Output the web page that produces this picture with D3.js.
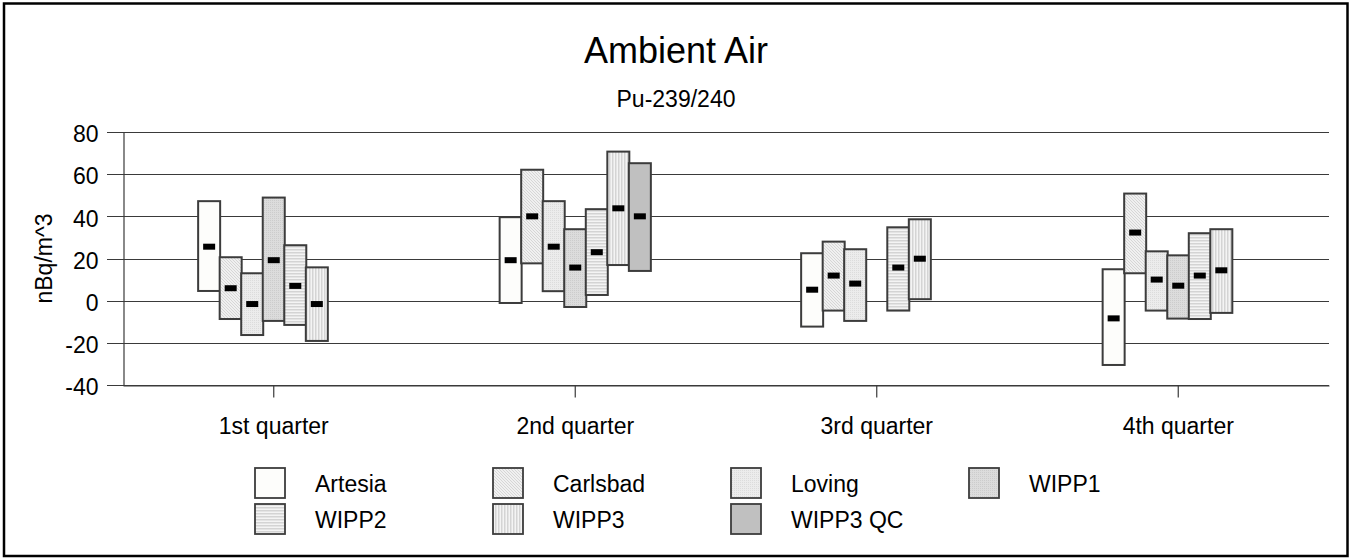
<!DOCTYPE html>
<html>
<head>
<meta charset="utf-8">
<script src="https://cdn.jsdelivr.net/npm/d3@7"></script>
<style>
  html, body { margin: 0; padding: 0; background: #fff; }
  svg { display: block; font-family: "Liberation Sans", Arial, sans-serif; }
</style>
</head>
<body>
<svg id="chart" width="1351" height="558"></svg>
<script>
// ---------- data ----------
const quarters = ["1st quarter", "2nd quarter", "3rd quarter", "4th quarter"];
const seriesNames = ["Artesia", "Carlsbad", "Loving", "WIPP1", "WIPP2", "WIPP3", "WIPP3 QC"];
// per series (rows) and quarter (columns); null = no data
const highs = [
  [47.2, 39.6, 22.5, 14.9],
  [20.6, 62.1, 28.0, 50.8],
  [13.0, 47.2, 24.4, 23.4],
  [48.9, 33.9, null, 21.5],
  [26.3, 43.4, 34.8, 32.0],
  [15.8, 70.7, 38.6, 33.9],
  [null, 65.2, null, null]
];
const lows = [
  [4.6, -1.1, -12.3, -30.5],
  [-8.7, 17.7, -4.7, 13.0],
  [-16.3, 4.5, -9.6, -4.7],
  [-9.6, -3.0, null, -8.5],
  [-11.5, 2.7, -4.7, -8.7],
  [-19.1, 16.9, 0.7, -5.8],
  [null, 14.1, null, null]
];
const means = [
  [25.6, 19.2, 5.2, -8.4],
  [5.9, 40.0, 11.9, 32.3],
  [-1.6, 25.6, 8.1, 10.0],
  [19.2, 15.7, null, 7.1],
  [7.0, 23.0, 15.7, 11.9],
  [-1.6, 43.8, 19.9, 14.4],
  [null, 40.0, null, null]
];
const yTicks = [-40, -20, 0, 20, 40, 60, 80];
const chartTitle = "Ambient Air";
const chartSubtitle = "Pu-239/240";
const yAxisTitle = "nBq/m^3";

// ---------- setup ----------
const svg = d3.select("#chart");
const plot = { left: 123, right: 1329, top: 132, bottom: 385 };

const x = d3.scaleBand().domain(quarters).range([plot.left, plot.right]).paddingInner(0).paddingOuter(0);
const y = d3.scaleLinear().domain([-40, 80]).range([plot.bottom, plot.top]);
const slot = x.bandwidth() / 14;
const boxW = 22;

// patterns
const defs = svg.append("defs");
function pat(id, w, h, bg, draw) {
  const p = defs.append("pattern").attr("id", id).attr("patternUnits", "userSpaceOnUse")
    .attr("width", w).attr("height", h);
  p.append("rect").attr("width", w).attr("height", h).attr("fill", bg);
  draw(p);
}
pat("pCarlsbad", 3, 3, "#f0f0f0", p => {
  [0, 1, 2].forEach(k => p.append("rect").attr("x", k).attr("y", k).attr("width", 1).attr("height", 1).attr("fill", "#d6d6d6"));
});
pat("pLoving", 2, 2, "#ececec", p => {
  p.append("rect").attr("x", 0).attr("y", 0).attr("width", 1).attr("height", 1).attr("fill", "#dcdcdc");
});
pat("pWIPP1", 2, 2, "#dcdcdc", p => {
  p.append("rect").attr("x", 0).attr("y", 0).attr("width", 1).attr("height", 1).attr("fill", "#cccccc");
});
pat("pWIPP2", 3, 3, "#f4f4f4", p => {
  p.append("rect").attr("x", 0).attr("y", 0).attr("width", 3).attr("height", 1.5).attr("fill", "#d4d4d4");
});
pat("pWIPP3", 3, 3, "#f4f4f4", p => {
  p.append("rect").attr("x", 0).attr("y", 0).attr("width", 1.5).attr("height", 3).attr("fill", "#d4d4d4");
});
const fills = ["#fdfdfb", "url(#pCarlsbad)", "url(#pLoving)", "url(#pWIPP1)", "url(#pWIPP2)", "url(#pWIPP3)", "#c0c0c0"];

// outer frame
svg.append("rect").attr("x", 4).attr("y", 3.5).attr("width", 1343.5).attr("height", 552.5)
  .attr("fill", "#fff").attr("stroke", "#000").attr("stroke-width", 2.5);

// titles
svg.append("text").attr("x", 676).attr("y", 63).attr("text-anchor", "middle")
  .attr("font-size", 36).attr("fill", "#000").text(chartTitle);
svg.append("text").attr("x", 676).attr("y", 107).attr("text-anchor", "middle")
  .attr("font-size", 23).attr("fill", "#000").text(chartSubtitle);

// gridlines
svg.append("g").selectAll("line").data(yTicks).join("line")
  .attr("x1", plot.left - 16).attr("x2", plot.right)
  .attr("y1", d => Math.round(y(d)) + 0.5).attr("y2", d => Math.round(y(d)) + 0.5)
  .attr("stroke", "#3a3a3a").attr("stroke-width", 1.2);

// y axis
const yAxis = d3.axisLeft(y).tickValues(yTicks).tickSize(0).tickPadding(25).tickFormat(d => String(d));
const gy = svg.append("g").attr("transform", `translate(${plot.left + 0.5},0)`).call(yAxis);
gy.select(".domain").attr("stroke", "#3a3a3a").attr("stroke-width", 1.2);
gy.selectAll("text").attr("font-size", 23).attr("fill", "#000")
  .attr("font-family", "'Liberation Sans', Arial, sans-serif").attr("dy", "0.42em");

// x axis
const xAxis = d3.axisBottom(x).tickSize(12).tickPadding(20).tickSizeOuter(0);
const gx = svg.append("g").attr("transform", `translate(0,${Math.round(y(-40)) + 0.5})`).call(xAxis);
gx.select(".domain").attr("stroke", "#3a3a3a").attr("stroke-width", 1.2);
gx.selectAll(".tick line").attr("stroke", "#3a3a3a").attr("stroke-width", 1.2);
gx.selectAll("text").attr("font-size", 23).attr("fill", "#000")
  .attr("font-family", "'Liberation Sans', Arial, sans-serif");

// y axis title
svg.append("text").attr("transform", `translate(52,${(plot.top + plot.bottom) / 2}) rotate(-90)`)
  .attr("text-anchor", "middle").attr("font-size", 23).attr("fill", "#000").text(yAxisTitle);

// boxes
const boxes = [];
seriesNames.forEach((s, si) => {
  quarters.forEach((q, qi) => {
    if (highs[si][qi] == null) return;
    boxes.push({ si, q, hi: highs[si][qi], lo: lows[si][qi], mid: means[si][qi] });
  });
});
const gb = svg.append("g");
const cx = d => x(d.q) + x.bandwidth() / 2 + (d.si - 3) * slot;
gb.selectAll("rect.box").data(boxes).join("rect").attr("class", "box")
  .attr("x", d => cx(d) - boxW / 2).attr("width", boxW)
  .attr("y", d => y(d.hi)).attr("height", d => y(d.lo) - y(d.hi))
  .attr("fill", d => fills[d.si]).attr("stroke", "#3c3c3c").attr("stroke-width", 2);
gb.selectAll("rect.mid").data(boxes).join("rect").attr("class", "mid")
  .attr("x", d => cx(d) - 6).attr("width", 12)
  .attr("y", d => y(d.mid) - 3).attr("height", 6).attr("fill", "#000");

// legend
const legCols = [254, 492, 730, 968];
const legRows = [467, 503];
const gl = svg.append("g");
seriesNames.forEach((s, i) => {
  const col = i % 4, row = Math.floor(i / 4);
  const lx = legCols[col], ly = legRows[row];
  gl.append("rect").attr("x", lx + 1).attr("y", ly + 1).attr("width", 30).attr("height", 30)
    .attr("fill", fills[i]).attr("stroke", "#3c3c3c").attr("stroke-width", 1.8);
  gl.append("text").attr("x", lx + 61).attr("y", ly + 25).attr("font-size", 23)
    .attr("fill", "#000").text(s);
});
</script>
</body>
</html>
